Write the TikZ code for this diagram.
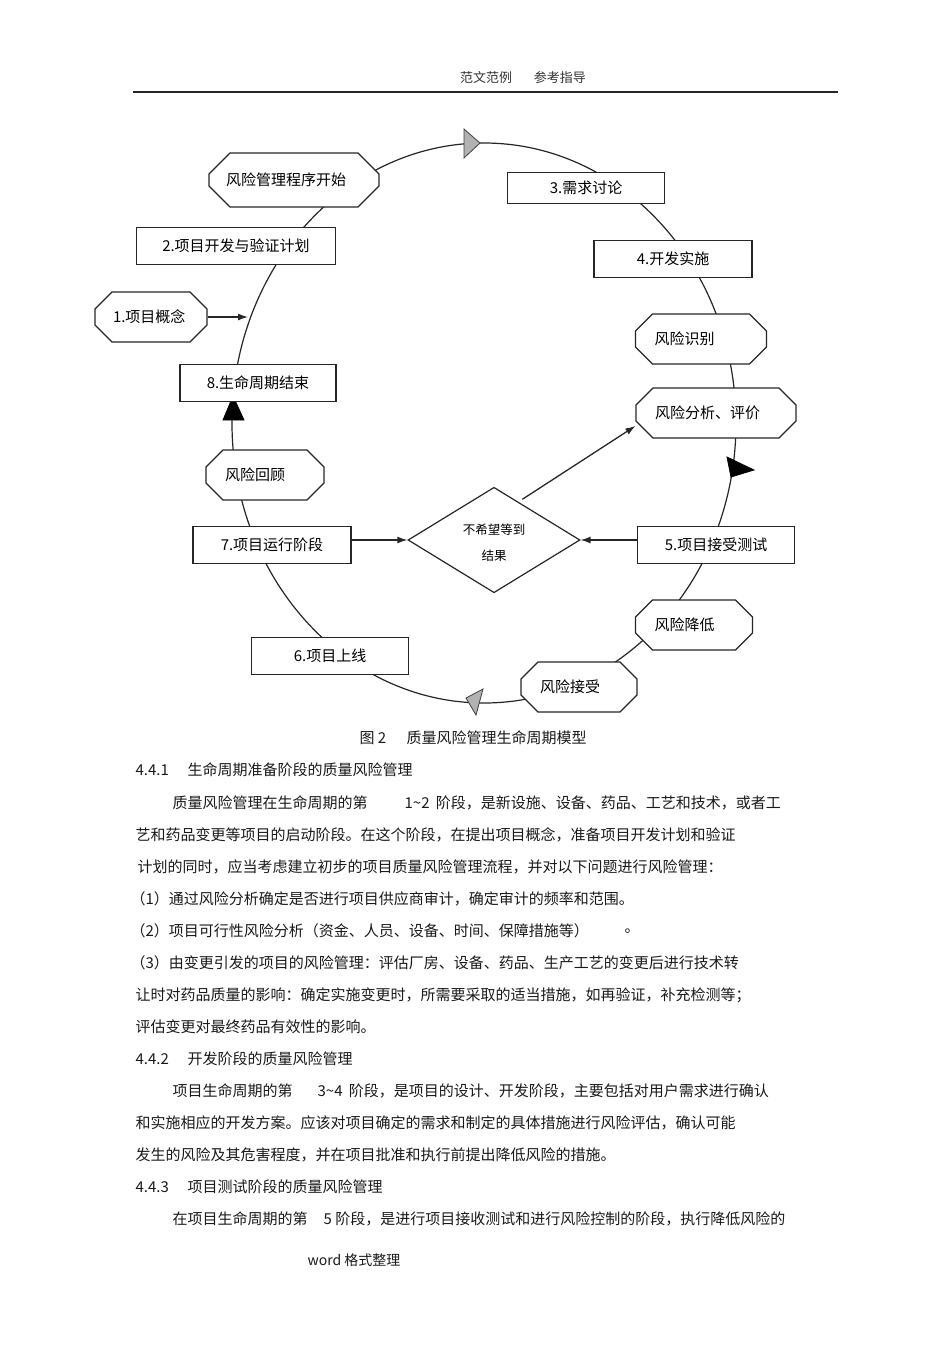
\documentclass[tikz,border=0pt]{standalone}
\usepackage{fontspec}
\setmainfont{Noto Sans CJK SC}
\usetikzlibrary{shapes.geometric,shapes.misc,arrows.meta}
\begin{document}
\begin{tikzpicture}[x=1pt,y=-1pt,line width=1.2pt,
  stage/.style={rectangle,draw=black!85,fill=white,minimum height=37pt,inner sep=0pt,font=\fontsize{15}{18}\selectfont},
  risk/.style={chamfered rectangle,chamfered rectangle xsep=11pt,chamfered rectangle ysep=10pt,draw=black!85,fill=white,minimum height=50pt,inner xsep=12pt,inner ysep=0pt,align=left,font=\fontsize{15}{18}\selectfont},
  decide/.style={diamond,draw=black!85,fill=white,minimum width=172pt,minimum height=105pt,inner sep=0pt,align=center,font=\fontsize{12.5}{26}\selectfont},
  arr/.style={-{Latex[length=10pt,width=7pt]},line width=1.3pt,black!85},
  headG/.style={fill=black!30,draw=black!75,line width=0.8pt},
  headB/.style={fill=black,draw=black,line width=0.8pt},
  body/.style={anchor=west,inner sep=0pt,black!90,font=\fontsize{15}{18}\selectfont}]
\useasboundingbox (0,0) rectangle (950,1345);

% page header
\node[inner sep=0pt,black!80,font=\fontsize{13}{16}\selectfont] (head) at (523,78) {范文范例\hspace{22pt}参考指导};
\draw[line width=1.6pt,black!85] (133,92) -- (838,92);

% life cycle
\draw[black!85] (484,423) ellipse [x radius=252,y radius=280];
\fill[headG] (464,129) -- (480,143) -- (464,158) -- cycle;
\fill[headB] (727,457) -- (754,470) -- (731,477) -- cycle;
\fill[headB] (223,420) -- (244,420) -- (233,396) -- cycle;
\fill[headG] (466,698) -- (483,689) -- (476,715) -- cycle;

\node[risk,chamfered rectangle xsep=15pt,chamfered rectangle ysep=14pt,inner xsep=10pt,text width=136pt,minimum height=54pt] (start) at (294,180) {风险管理程序开始};
\node[stage,minimum width=199pt] (s2) at (236,246) {2.项目开发与验证计划};
\node[risk,text width=76pt,inner xsep=11pt] (s1) at (151,317) {1.项目概念};
\node[stage,minimum width=156pt] (s8) at (258,383) {8.生命周期结束};
\node[stage,minimum width=157pt,minimum height=31pt] (s3) at (586,188) {3.需求讨论};
\node[stage,minimum width=158pt] (s4) at (673,259) {4.开发实施};
\node[risk,text width=93pt] (ri) at (701,339) {风险识别};
\node[risk,text width=122pt] (ra) at (716,413) {风险分析、评价};
\node[risk,text width=80pt] (rr) at (265,475) {风险回顾};
\node[stage,minimum width=158pt] (s7) at (272,545) {7.项目运行阶段};
\node[decide] (dec) at (494,540) {\rule{0pt}{16pt}不希望等到\\结果};
\node[stage,minimum width=157pt] (s5) at (716,545) {5.项目接受测试};
\node[risk,text width=79pt] (rd) at (694,625) {风险降低};
\node[risk,text width=78pt] (rc) at (579,687) {风险接受};
\node[stage,minimum width=157pt] (s6) at (330,656) {6.项目上线};

\coordinate (c1) at (248,317);
\draw[arr] (s1.east) -- (c1);
\draw[arr] (s7.east |- dec.west) -- (dec.west);
\draw[arr] (s5.west |- dec.east) -- (dec.east);
\draw[arr] ([xshift=-15pt,yshift=14pt]dec.north east) -- ([yshift=-13pt]ra.west);

% caption and text
\node[body] (cap1) at (359,738) {图 2};
\node[body] (cap2) at (406,738) {质量风险管理生命周期模型};
\node[body] (h1a) at (135,770) {4.4.1};
\node[body] (h1b) at (187,770) {生命周期准备阶段的质量风险管理};
\node[body] (p1a) at (172,803) {质量风险管理在生命周期的第};
\node[body] (p1b) at (404,803) {1\textasciitilde 2\hspace{3pt} 阶段，是新设施、设备、药品、工艺和技术，或者工};
\node[body] (p2) at (135,835) {艺和药品变更等项目的启动阶段。在这个阶段，在提出项目概念，准备项目开发计划和验证};
\node[body] (p3) at (137,867) {计划的同时，应当考虑建立初步的项目质量风险管理流程，并对以下问题进行风险管理：};
\node[body] (p4) at (130,899) {（1）通过风险分析确定是否进行项目供应商审计，确定审计的频率和范围。};
\node[body] (p5a) at (130,931) {（2）项目可行性风险分析（资金、人员、设备、时间、保障措施等）};
\node[body] (p5b) at (624,931) {。};
\node[body] (p6) at (130,963) {（3）由变更引发的项目的风险管理：评估厂房、设备、药品、生产工艺的变更后进行技术转};
\node[body] (p7) at (135,995) {让时对药品质量的影响：确定实施变更时，所需要采取的适当措施，如再验证，补充检测等；};
\node[body] (p8) at (135,1027) {评估变更对最终药品有效性的影响。};
\node[body] (h2a) at (135,1059) {4.4.2};
\node[body] (h2b) at (187,1059) {开发阶段的质量风险管理};
\node[body] (q1a) at (172,1091) {项目生命周期的第};
\node[body] (q1b) at (317,1091) {3\textasciitilde 4\hspace{3pt} 阶段，是项目的设计、开发阶段，主要包括对用户需求进行确认};
\node[body] (q2) at (135,1123) {和实施相应的开发方案。应该对项目确定的需求和制定的具体措施进行风险评估，确认可能};
\node[body] (q3) at (135,1155) {发生的风险及其危害程度，并在项目批准和执行前提出降低风险的措施。};
\node[body] (h3a) at (135,1187) {4.4.3};
\node[body] (h3b) at (187,1187) {项目测试阶段的质量风险管理};
\node[body] (r1a) at (172,1219) {在项目生命周期的第};
\node[body] (r1b) at (323,1219) {5 阶段，是进行项目接收测试和进行风险控制的阶段，执行降低风险的};
\node[body,font=\fontsize{14}{17}\selectfont] (foot) at (307,1260) {word 格式整理};
\end{tikzpicture}
\end{document}
